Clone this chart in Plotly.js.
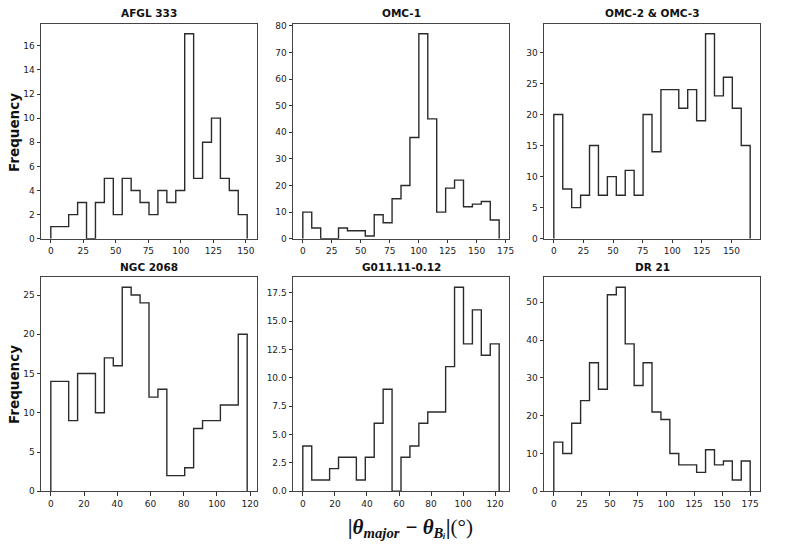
<!DOCTYPE html>
<html>
<head>
<meta charset="utf-8">
<script src="https://cdn.plot.ly/plotly-3.0.1.min.js"></script>
<style>
  html, body { margin: 0; padding: 0; background: #fff; }
  #chart { width: 790px; height: 546px; }
</style>
</head>
<body>
<div id="chart"></div>
<script>
// Region names (panel titles)
const regions = ["AFGL 333", "OMC-1", "OMC-2 & OMC-3", "NGC 2068", "G011.11-0.12", "DR 21"];

// Histogram counts, 22 equal-width bins per region starting at 0 deg
const countsAFGL333 = [1, 1, 2, 3, 0, 3, 5, 2, 5, 4, 3, 2, 4, 3, 4, 17, 5, 8, 10, 5, 4, 2];
const countsOMC1    = [10, 4, 0, 0, 4, 3, 3, 1, 9, 6, 15, 20, 38, 77, 45, 10, 19, 22, 12, 13, 14, 7];
const countsOMC23   = [20, 8, 5, 7, 15, 7, 10, 7, 11, 7, 20, 14, 24, 24, 21, 24, 19, 33, 23, 26, 21, 15];
const countsNGC2068 = [14, 14, 9, 15, 15, 10, 17, 16, 26, 25, 24, 12, 13, 2, 2, 3, 8, 9, 9, 11, 11, 20];
const countsG011    = [4, 1, 1, 2, 3, 3, 1, 3, 6, 9, 0, 3, 4, 6, 7, 7, 11, 18, 13, 16, 12, 13];
const countsDR21    = [13, 10, 18, 24, 34, 27, 52, 54, 39, 28, 34, 21, 19, 10, 7, 7, 5, 11, 7, 8, 3, 8];

// Upper edge of the last bin (largest angle difference) for each region, degrees
const binMax = [151, 169.4, 165.8, 118.2, 122.5, 175];

// Axis tick values
const xTicks = [
  [0, 25, 50, 75, 100, 125, 150],
  [0, 25, 50, 75, 100, 125, 150, 175],
  [0, 25, 50, 75, 100, 125, 150],
  [0, 20, 40, 60, 80, 100, 120],
  [0, 20, 40, 60, 80, 100, 120],
  [0, 25, 50, 75, 100, 125, 150, 175]
];
const yTicks = [
  [0, 2, 4, 6, 8, 10, 12, 14, 16],
  [0, 10, 20, 30, 40, 50, 60, 70, 80],
  [0, 5, 10, 15, 20, 25, 30],
  [0, 5, 10, 15, 20, 25],
  [0, 2.5, 5, 7.5, 10, 12.5, 15, 17.5],
  [0, 10, 20, 30, 40, 50]
];

const allCounts = [countsAFGL333, countsOMC1, countsOMC23, countsNGC2068, countsG011, countsDR21];

const W = 790, H = 546;
// panel boxes in pixels: columns and rows
const cols = [[41, 257], [293, 509], [544, 760]];
const rows = [[23.5, 238.7], [277, 491.3]];

const lineColor = "#2b2b2b";
const tickFont = { family: "DejaVu Sans", size: 9, color: "#222" };

const traces = [];
const layout = {
  width: W, height: H,
  margin: { l: 0, r: 0, t: 0, b: 0 },
  paper_bgcolor: "#fff",
  plot_bgcolor: "#fff",
  showlegend: false,
  annotations: []
};

allCounts.forEach((counts, i) => {
  const n = counts.length;
  const w = binMax[i] / n;
  // step outline: start on the baseline, step across each bin, drop back to 0
  const xs = [0];
  const ys = [0];
  for (let k = 0; k < n; k++) {
    xs.push(k * w);
    ys.push(counts[k]);
  }
  xs.push(n * w);
  ys.push(0);

  const ax = i === 0 ? "" : String(i + 1);
  traces.push({
    type: "scatter",
    mode: "lines",
    x: xs, y: ys,
    xaxis: "x" + ax, yaxis: "y" + ax,
    line: { shape: "hv", color: lineColor, width: 1.4 },
    hoverinfo: "skip"
  });

  const c = cols[i % 3];
  const r = rows[Math.floor(i / 3)];
  const ymaxData = Math.max(...counts);
  const pad = 0.05 * binMax[i];

  layout["xaxis" + ax] = {
    domain: [c[0] / W, c[1] / W],
    anchor: "y" + ax,
    range: [-pad, binMax[i] + pad],
    tickvals: xTicks[i],
    ticks: "outside", ticklen: 3.5, tickwidth: 1, tickcolor: "#333",
    showgrid: false, zeroline: false,
    showline: true, mirror: true, linecolor: "#444", linewidth: 1,
    tickfont: tickFont
  };
  layout["yaxis" + ax] = {
    domain: [1 - r[1] / H, 1 - r[0] / H],
    anchor: "x" + ax,
    range: [0, ymaxData * 1.05],
    tickvals: yTicks[i],
    tickformat: i === 4 ? ".1f" : "d",
    ticks: "outside", ticklen: 3.5, tickwidth: 1, tickcolor: "#333",
    showgrid: false, zeroline: false,
    showline: true, mirror: true, linecolor: "#444", linewidth: 1,
    tickfont: tickFont
  };

  // panel title
  layout.annotations.push({
    text: "<b>" + regions[i].replace("&", "&amp;") + "</b>",
    xref: "paper", yref: "paper",
    x: (c[0] + c[1]) / 2 / W,
    y: 1 - (r[0] - 2) / H,
    xanchor: "center", yanchor: "bottom",
    showarrow: false,
    font: { family: "DejaVu Sans", size: 10.5, color: "#111" }
  });
});

// shared y-axis labels
[133, 385].forEach(py => {
  layout.annotations.push({
    text: "<b>Frequency</b>",
    xref: "paper", yref: "paper",
    x: 14 / W, y: 1 - py / H,
    xanchor: "center", yanchor: "middle",
    textangle: -90,
    showarrow: false,
    font: { family: "DejaVu Sans", size: 13.5, color: "#111" }
  });
});

// shared x-axis label
layout.annotations.push({
  text: "<b><i>|θ<sub>major</sub> − θ<sub>Bᵢ</sub>|</i></b>(°)",
  xref: "paper", yref: "paper",
  x: 410 / W, y: 1 - 528 / H,
  xanchor: "center", yanchor: "middle",
  showarrow: false,
  font: { family: "Liberation Serif", size: 21, color: "#111" }
});

Plotly.newPlot("chart", traces, layout, { staticPlot: true, displayModeBar: false });
</script>
</body>
</html>
